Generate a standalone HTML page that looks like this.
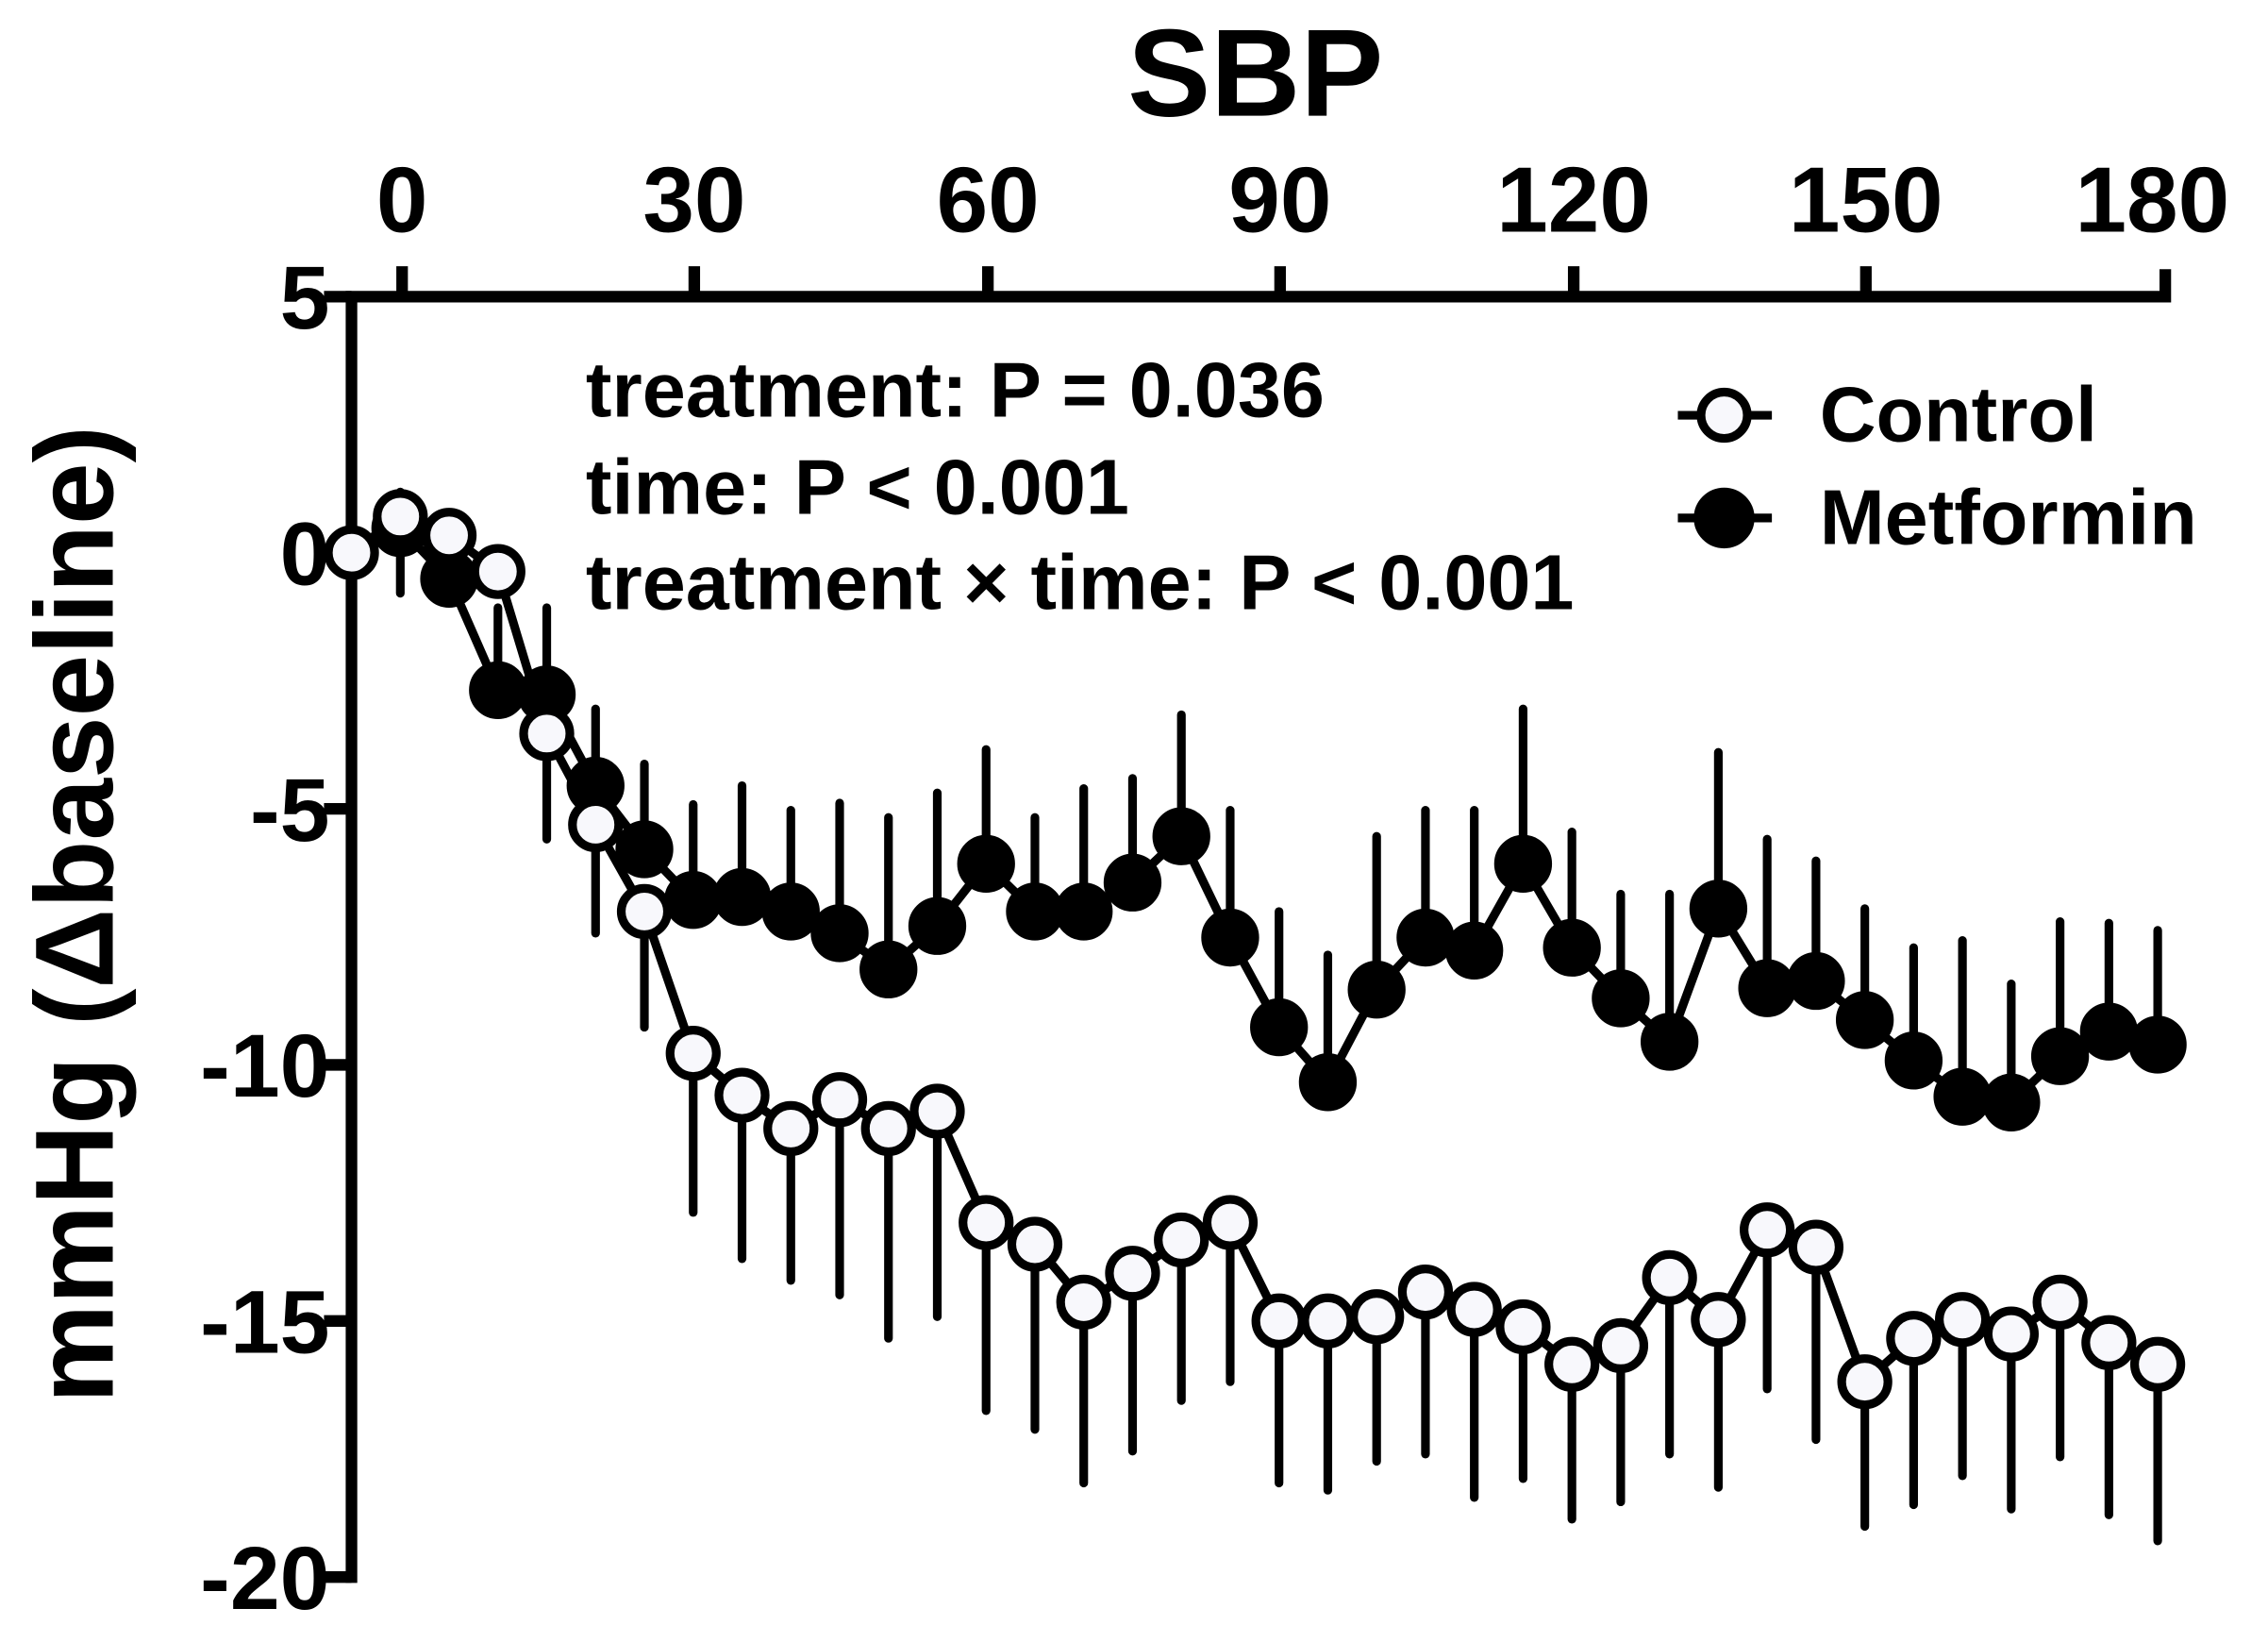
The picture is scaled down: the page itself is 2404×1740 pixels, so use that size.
<!DOCTYPE html>
<html><head><style>html,body{margin:0;padding:0;background:#fff}</style></head><body>
<svg width="2404" height="1735" viewBox="0 0 1568 1131.6" xmlns="http://www.w3.org/2000/svg" font-family="Liberation Sans, Arial, sans-serif" font-weight="bold">
<rect width="1568" height="1132" fill="#fff"/>
<text x="868" y="80" font-size="86" text-anchor="middle">SBP</text>
<g font-size="64" text-anchor="middle">
<text x="278" y="160">0</text><text x="480" y="160">30</text><text x="683" y="160">60</text><text x="885" y="160">90</text><text x="1088" y="160">120</text><text x="1290" y="160">150</text><text x="1488" y="160">180</text>
</g>
<g font-size="62" text-anchor="end">
<text x="228" y="227">5</text><text x="228" y="404">0</text><text x="228" y="581">-5</text><text x="228" y="758">-10</text><text x="228" y="935">-15</text><text x="228" y="1112">-20</text>
</g>
<text transform="translate(78,632) rotate(-90)" font-size="77" text-anchor="middle">mmHg (Δbaseline)</text>
<g stroke="#000" stroke-width="8" fill="none">
<path d="M243,1094V205H1497V186"/>
<path d="M278,205V184M480,205V184M683,205V184M885,205V184M1088,205V184M1290,205V184"/>
<path d="M243,205H224M243,382H224M243,559H224M243,736H224M243,913H224M243,1090H224"/>
</g>
<g font-size="54">
<text x="405" y="288">treatment: P = 0.036</text>
<text x="405" y="355">time: P &lt; 0.001</text>
<text x="405" y="421">treatment × time: P &lt; 0.001</text>
<text x="1258" y="305">Control</text>
<text x="1258" y="376">Metformin</text>
</g>
<g stroke="#000" stroke-width="6">
<line x1="1160" y1="287" x2="1225" y2="287"/><circle cx="1192" cy="287" r="16" fill="#f8f8fc"/>
<line x1="1160" y1="358" x2="1225" y2="358"/><circle cx="1192" cy="358" r="18" fill="#000"/>
</g>
<g id="plot" stroke="#000" stroke-width="6" stroke-linecap="round"></g>
</svg>
<script>
var g=document.getElementById('plot');
var xs=[];for(var i=0;i<38;i++)xs.push(243+i*33.75);
var cy=[382,357,370,395,507,570,630,728,757,780,760,780,768,845,860,900,880,857,845,913,913,910,893,905,917,943,930,883,912,850,862,955,925,912,922,900,928,943];
var ce=[382,410,370,395,580,645,710,838,870,885,895,925,910,975,988,1025,1003,968,955,1025,1030,1010,1005,1035,1022,1050,1038,1005,1028,960,995,1055,1040,1020,1043,1007,1047,1065];
var my=[382,365,400,477,480,543,587,622,620,630,645,670,640,597,630,630,610,578,648,710,748,684,648,657,597,655,690,720,628,683,678,705,733,758,762,730,713,722];
var me=[382,340,390,420,420,490,528,556,543,560,555,565,548,518,565,545,538,494,560,630,660,578,560,560,490,575,618,618,520,580,595,628,655,650,680,637,638,643];
var s='';
function pl(y){return xs.map(function(x,i){return x+','+y[i]}).join(' ')}
for(var i=0;i<38;i++)s+='<line x1="'+xs[i]+'" y1="'+my[i]+'" x2="'+xs[i]+'" y2="'+me[i]+'"/>';
s+='<polyline fill="none" points="'+pl(my)+'"/>';
for(var i=1;i<38;i++)s+='<circle cx="'+xs[i]+'" cy="'+my[i]+'" r="17" fill="#000"/>';
for(var i=0;i<38;i++)s+='<line x1="'+xs[i]+'" y1="'+cy[i]+'" x2="'+xs[i]+'" y2="'+ce[i]+'"/>';
s+='<polyline fill="none" points="'+pl(cy)+'"/>';
for(var i=0;i<38;i++)s+='<circle cx="'+xs[i]+'" cy="'+cy[i]+'" r="16" fill="#f8f8fc"/>';
g.innerHTML=s;
</script>
</body></html>
